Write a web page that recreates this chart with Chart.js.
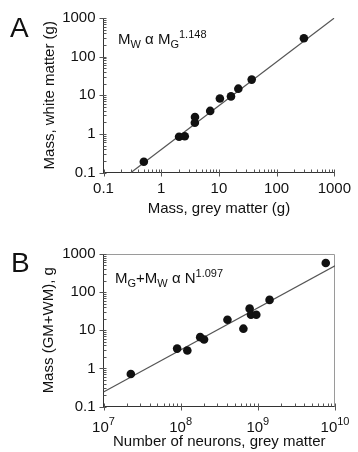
<!DOCTYPE html>
<html>
<head>
<meta charset="utf-8">
<script src="https://cdn.jsdelivr.net/npm/chart.js@4.4.0/dist/chart.umd.min.js"></script>
<style>
html, body { margin: 0; padding: 0; background: #fff; }
#wrap { position: relative; width: 358px; height: 452px; font-family: "Liberation Sans", Arial, sans-serif; color: #111; }
canvas { position: absolute; left: 0; }
.lbl { position: absolute; line-height: 1; white-space: nowrap; }
.big { font-size: 28px; }
.eq { font-size: 15px; line-height: 15px; }
.eq .sb { font-size: 11px; position: relative; top: 4px; }
.eq .sp { font-size: 11px; position: relative; top: -6px; }
</style>
</head>
<body>
<div id="wrap">
    <canvas id="chartA" width="358" height="226" style="top:0"></canvas>
    <canvas id="chartB" width="358" height="226" style="top:226px"></canvas>
    <div class="lbl big" style="left:10px;top:14px">A</div>
    <div class="lbl big" style="left:11px;top:249px">B</div>
    <div class="lbl eq" style="left:118px;top:31px">M<span class="sb">W</span> α M<span class="sb">G</span><span class="sp">1.148</span></div>
    <div class="lbl eq" style="left:115px;top:270px">M<span class="sb">G</span>+M<span class="sb">W</span> α N<span class="sp">1.097</span></div>
</div>
<script>
// panel A : white matter vs grey matter mass (g)
const greyMassA   = [0.50, 2.04, 2.56, 3.83, 3.85, 7.06, 10.4, 16.2, 21.7, 37.0, 297];
const whiteMassA  = [0.19, 0.84, 0.87, 1.95, 2.74, 3.93, 8.27, 9.33, 14.8, 25.4, 300];
const fitXA       = [0.3, 1000];
const fitYA       = [0.1, 1000];
const ticksXA     = [0.1, 1, 10, 100, 1000];
const labelsXA    = ["0.1", "1", "10", "100", "1000"];
const ticksYA     = [0.1, 1, 10, 100, 1000];
const labelsYA    = ["0.1", "1", "10", "100", "1000"];

// panel B : GM+WM mass vs number of neurons
const neuronsB    = [2.26e7, 9.0e7, 1.22e8, 1.79e8, 2.01e8, 4.04e8, 6.5e8, 7.83e8, 8.15e8, 9.55e8, 1.42e9, 7.59e9];
const totalMassB  = [0.71, 3.3, 2.94, 6.6, 5.7, 18.9, 11.0, 36.9, 25.6, 25.6, 62.5, 580];
const fitXB       = [1e7, 1e10];
const fitYB       = [0.24, 490];
const ticksXB     = [1e7, 1e8, 1e9, 1e10];
const expXB       = ["7", "8", "9", "10"];     // drawn as 10^n
const ticksYB     = [0.1, 1, 10, 100, 1000];
const labelsYB    = ["0.1", "1", "10", "100", "1000"];

const FONT = "'Liberation Sans', Arial, sans-serif";

// ticks (major crossing the axis, minor inside), optional grey frame, optional 10^n labels
const axisMarks = {
    id: "axisMarks",
    beforeDatasetsDraw(chart, args, opts) {
        const ctx = chart.ctx;
        const a   = chart.chartArea;
        const x   = chart.scales.x, y = chart.scales.y;
        ctx.save();
        ctx.lineWidth = 1;
        if (opts.box) {
            ctx.strokeStyle = "#9a9a9a";
            ctx.beginPath();
            ctx.moveTo(a.left, a.top + 0.5);
            ctx.lineTo(a.right - 0.5, a.top + 0.5);
            ctx.lineTo(a.right - 0.5, a.bottom);
            ctx.stroke();
        }
        ctx.strokeStyle = "#555";
        const each = function (scale, cb) {
            const lo = Math.round(Math.log10(scale.min)), hi = Math.round(Math.log10(scale.max));
            for (let d = lo; d < hi; d++) {
                for (let k = 1; k < 10; k++) cb(scale.getPixelForValue(k * Math.pow(10, d)), k === 1);
            }
            cb(scale.getPixelForValue(Math.pow(10, hi)), true);
        };
        ctx.beginPath();
        each(x, function (px, major) {
            px = Math.round(px) + 0.5;
            ctx.moveTo(px, a.bottom - 3);
            ctx.lineTo(px, a.bottom + (major ? 4 : 0));
        });
        each(y, function (py, major) {
            py = Math.round(py) + 0.5;
            ctx.moveTo(a.left + 3, py);
            ctx.lineTo(a.left - (major ? 4 : 0), py);
        });
        ctx.stroke();

        // 10^n tick labels
        if (opts.powers) {
            ctx.fillStyle = "#111";
            ctx.textBaseline = "alphabetic";
            ctx.textAlign = "left";
            const base = a.bottom + 25;
            opts.powers.values.forEach(function (v, i) {
                const e = opts.powers.exps[i];
                ctx.font = "15px " + FONT;
                const w1 = ctx.measureText("10").width;
                ctx.font = "11px " + FONT;
                const w2 = ctx.measureText(e).width;
                const left = x.getPixelForValue(v) - (w1 + w2) / 2;
                ctx.font = "15px " + FONT;
                ctx.fillText("10", left, base);
                ctx.font = "11px " + FONT;
                ctx.fillText(e, left + w1, base - 7);
            });
        }
        ctx.restore();
    }
};

function makeChart(id, p) {
    const ctx = document.getElementById(id).getContext("2d");
    return new Chart(ctx, {
        type: "scatter",
        data: {
            datasets: [{
                data: p.xs.map((v, i) => ({ x: v, y: p.ys[i] })),
                pointRadius: 4.3,
                pointBackgroundColor: "#111",
                pointBorderWidth: 0
            }, {
                data: p.fitX.map((v, i) => ({ x: v, y: p.fitY[i] })),
                showLine: true,
                borderColor: "#555",
                borderWidth: 1.2,
                pointRadius: 0
            }]
        },
        options: {
            responsive: false,
            animation: false,
            devicePixelRatio: 1,
            events: [],
            layout: { padding: { left: 0, top: p.top, right: 23, bottom: 0 } },
            plugins: {
                legend: { display: false },
                tooltip: { enabled: false },
                axisMarks: { box: p.box, powers: p.powers }
            },
            scales: {
                x: {
                    type: "logarithmic",
                    min: p.ticksX[0], max: p.ticksX[p.ticksX.length - 1],
                    afterBuildTicks: s => { s.ticks = p.ticksX.map(v => ({ value: v })); },
                    afterFit: s => { s.height = p.xHeight; },
                    grid: { display: false, drawTicks: false },
                    border: { display: true, color: "#333", width: 1 },
                    ticks: { display: !p.powers, autoSkip: false, maxRotation: 0, padding: 7, color: "#111",
                             font: { family: FONT, size: 15 }, callback: (v, i) => p.labelsX ? p.labelsX[i] : "" },
                    title: { display: true, text: p.xTitle, color: "#111", font: { family: FONT, size: 15 },
                             padding: { top: 0, bottom: p.xTitlePad } }
                },
                y: {
                    type: "logarithmic",
                    min: p.ticksY[0], max: p.ticksY[p.ticksY.length - 1],
                    afterBuildTicks: s => { s.ticks = p.ticksY.map(v => ({ value: v })); },
                    afterFit: s => { s.width = 103.5; },
                    grid: { display: false, drawTicks: false },
                    border: { display: true, color: "#333", width: 1 },
                    ticks: { autoSkip: false, padding: 8, color: "#111",
                             font: { family: FONT, size: 15 }, callback: (v, i) => p.labelsY[i] },
                    title: { display: true, text: p.yTitle, color: "#111", font: { family: FONT, size: 15 },
                             padding: { top: p.yTitlePad, bottom: 0 } }
                }
            }
        },
        plugins: [axisMarks]
    });
}

window.addEventListener("load", function () {
    makeChart("chartA", {
        xs: greyMassA, ys: whiteMassA, fitX: fitXA, fitY: fitYA,
        ticksX: ticksXA, labelsX: labelsXA, ticksY: ticksYA, labelsY: labelsYA,
        xTitle: "Mass, grey matter (g)", yTitle: "Mass, white matter (g)",
        top: 18, xHeight: 53.5, xTitlePad: 8, yTitlePad: 41, box: false
    });
    makeChart("chartB", {
        xs: neuronsB, ys: totalMassB, fitX: fitXB, fitY: fitYB,
        ticksX: ticksXB, ticksY: ticksYB, labelsY: labelsYB,
        powers: { values: ticksXB, exps: expXB },
        xTitle: "Number of neurons, grey matter", yTitle: "Mass (GM+WM), g",
        top: 28, xHeight: 45.5, xTitlePad: 1, yTitlePad: 40, box: true
    });
});
</script>
</body>
</html>
